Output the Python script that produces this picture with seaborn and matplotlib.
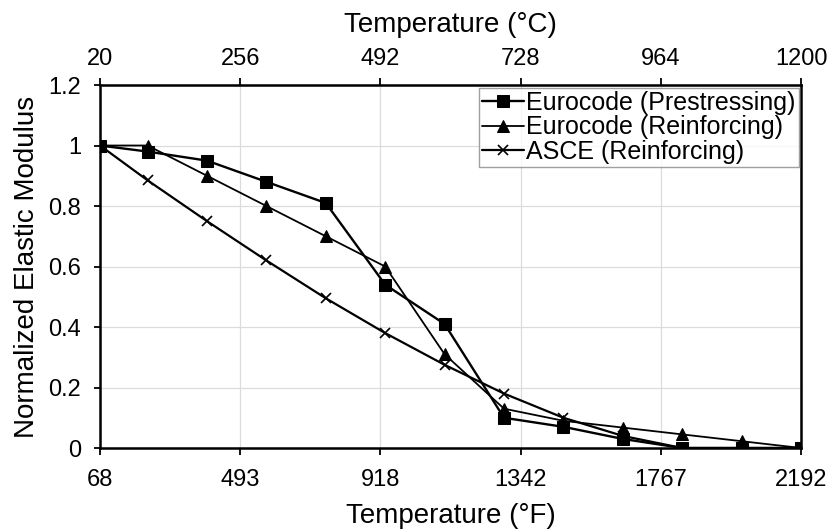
import numpy as np
import pandas as pd
import matplotlib
matplotlib.use('Agg')
import matplotlib.pyplot as plt
import seaborn as sns

# 온도 (°C)
temp_c = [20, 100, 200, 300, 400, 500, 600, 700, 800, 900, 1000, 1100, 1200]
# 정규화 탄성계수
euro_prestress = [1.0, 0.98, 0.95, 0.88, 0.81, 0.54, 0.41, 0.10, 0.07, 0.03, 0.0, 0.0, 0.0]
euro_reinf = [1.0, 1.0, 0.90, 0.80, 0.70, 0.60, 0.31, 0.13, 0.09, 0.0675, 0.045, 0.0225, 0.0]
asce_temp_c = [20, 100, 200, 300, 400, 500, 600, 700, 800, 900, 1000, 1200]
asce_reinf = [1.0, 0.885, 0.75, 0.62, 0.495, 0.38, 0.275, 0.18, 0.10, 0.04, 0.0, 0.0]

series_names = ['Eurocode (Prestressing)', 'Eurocode (Reinforcing)', 'ASCE (Reinforcing)']
tick_c = [20, 256, 492, 728, 964, 1200]
tick_f = ['68', '493', '918', '1342', '1767', '2192']
tick_y = [0, 0.2, 0.4, 0.6, 0.8, 1.0, 1.2]
tick_y_labels = ['0', '0.2', '0.4', '0.6', '0.8', '1', '1.2']

df = pd.concat([
    pd.DataFrame({'temp': temp_c, 'E': euro_prestress, 'series': series_names[0]}),
    pd.DataFrame({'temp': temp_c, 'E': euro_reinf, 'series': series_names[1]}),
    pd.DataFrame({'temp': asce_temp_c, 'E': asce_reinf, 'series': series_names[2]}),
])

sns.set_style('white')
plt.rcParams['font.family'] = ['Liberation Sans', 'DejaVu Sans']
plt.rcParams.update({'text.color': 'black', 'axes.labelcolor': 'black',
                     'xtick.color': 'black', 'ytick.color': 'black'})

fig = plt.figure(figsize=(8.28, 5.31), dpi=100)
ax = fig.add_axes([0.1208, 0.1563, 0.8466, 0.6836])

styles = {
    series_names[0]: dict(marker='s', markersize=8.5, linewidth=1.7),
    series_names[1]: dict(marker='^', markersize=8.5, linewidth=1.3),
    series_names[2]: dict(marker='x', markersize=7, linewidth=1.6, markeredgewidth=1.2),
}
for name in series_names:
    sub = df[df['series'] == name]
    sns.lineplot(data=sub, x='temp', y='E', ax=ax, color='black', label=name,
                 markeredgecolor='black', **styles[name])

ax.set_xlim(20, 1200)
ax.set_ylim(0, 1.2)
ax.set_xticks(tick_c)
ax.set_xticklabels(tick_f)
ax.set_yticks(tick_y)
ax.set_yticklabels(tick_y_labels)
ax.grid(True, color='#dcdcdc', linewidth=0.9)
ax.set_axisbelow(True)
for s in ax.spines.values():
    s.set_color('black')
    s.set_linewidth(1.8)
ax.tick_params(axis='x', labelsize=17, length=5, width=1.3, color='black',
               labelcolor='black', direction='out', bottom=True, pad=10)
ax.tick_params(axis='y', labelsize=17, length=4, width=1.3, color='black',
               labelcolor='black', direction='out', left=True, pad=9.5)
ax.set_xlabel('Temperature (°F)', fontsize=20, labelpad=8.5, color='black')
ax.set_ylabel('Normalized Elastic Modulus', fontsize=20, labelpad=6, color='black')

top = ax.secondary_xaxis('top')
top.set_xticks(tick_c)
top.set_xticklabels([str(t) for t in tick_c])
top.tick_params(labelsize=17, length=5, width=1.3, color='black', labelcolor='black',
                direction='out', pad=6)
top.set_xlabel('Temperature (°C)', fontsize=20, labelpad=11, color='black')

leg = ax.legend(loc='upper right', fontsize=18, frameon=True, fancybox=False,
                borderaxespad=0.1, borderpad=0.12, labelspacing=0.03,
                handlelength=1.65, handletextpad=0.1, labelcolor='black')
leg.get_frame().set_edgecolor('#888888')
leg.get_frame().set_linewidth(1.0)

plt.savefig('out.png', dpi=100)
